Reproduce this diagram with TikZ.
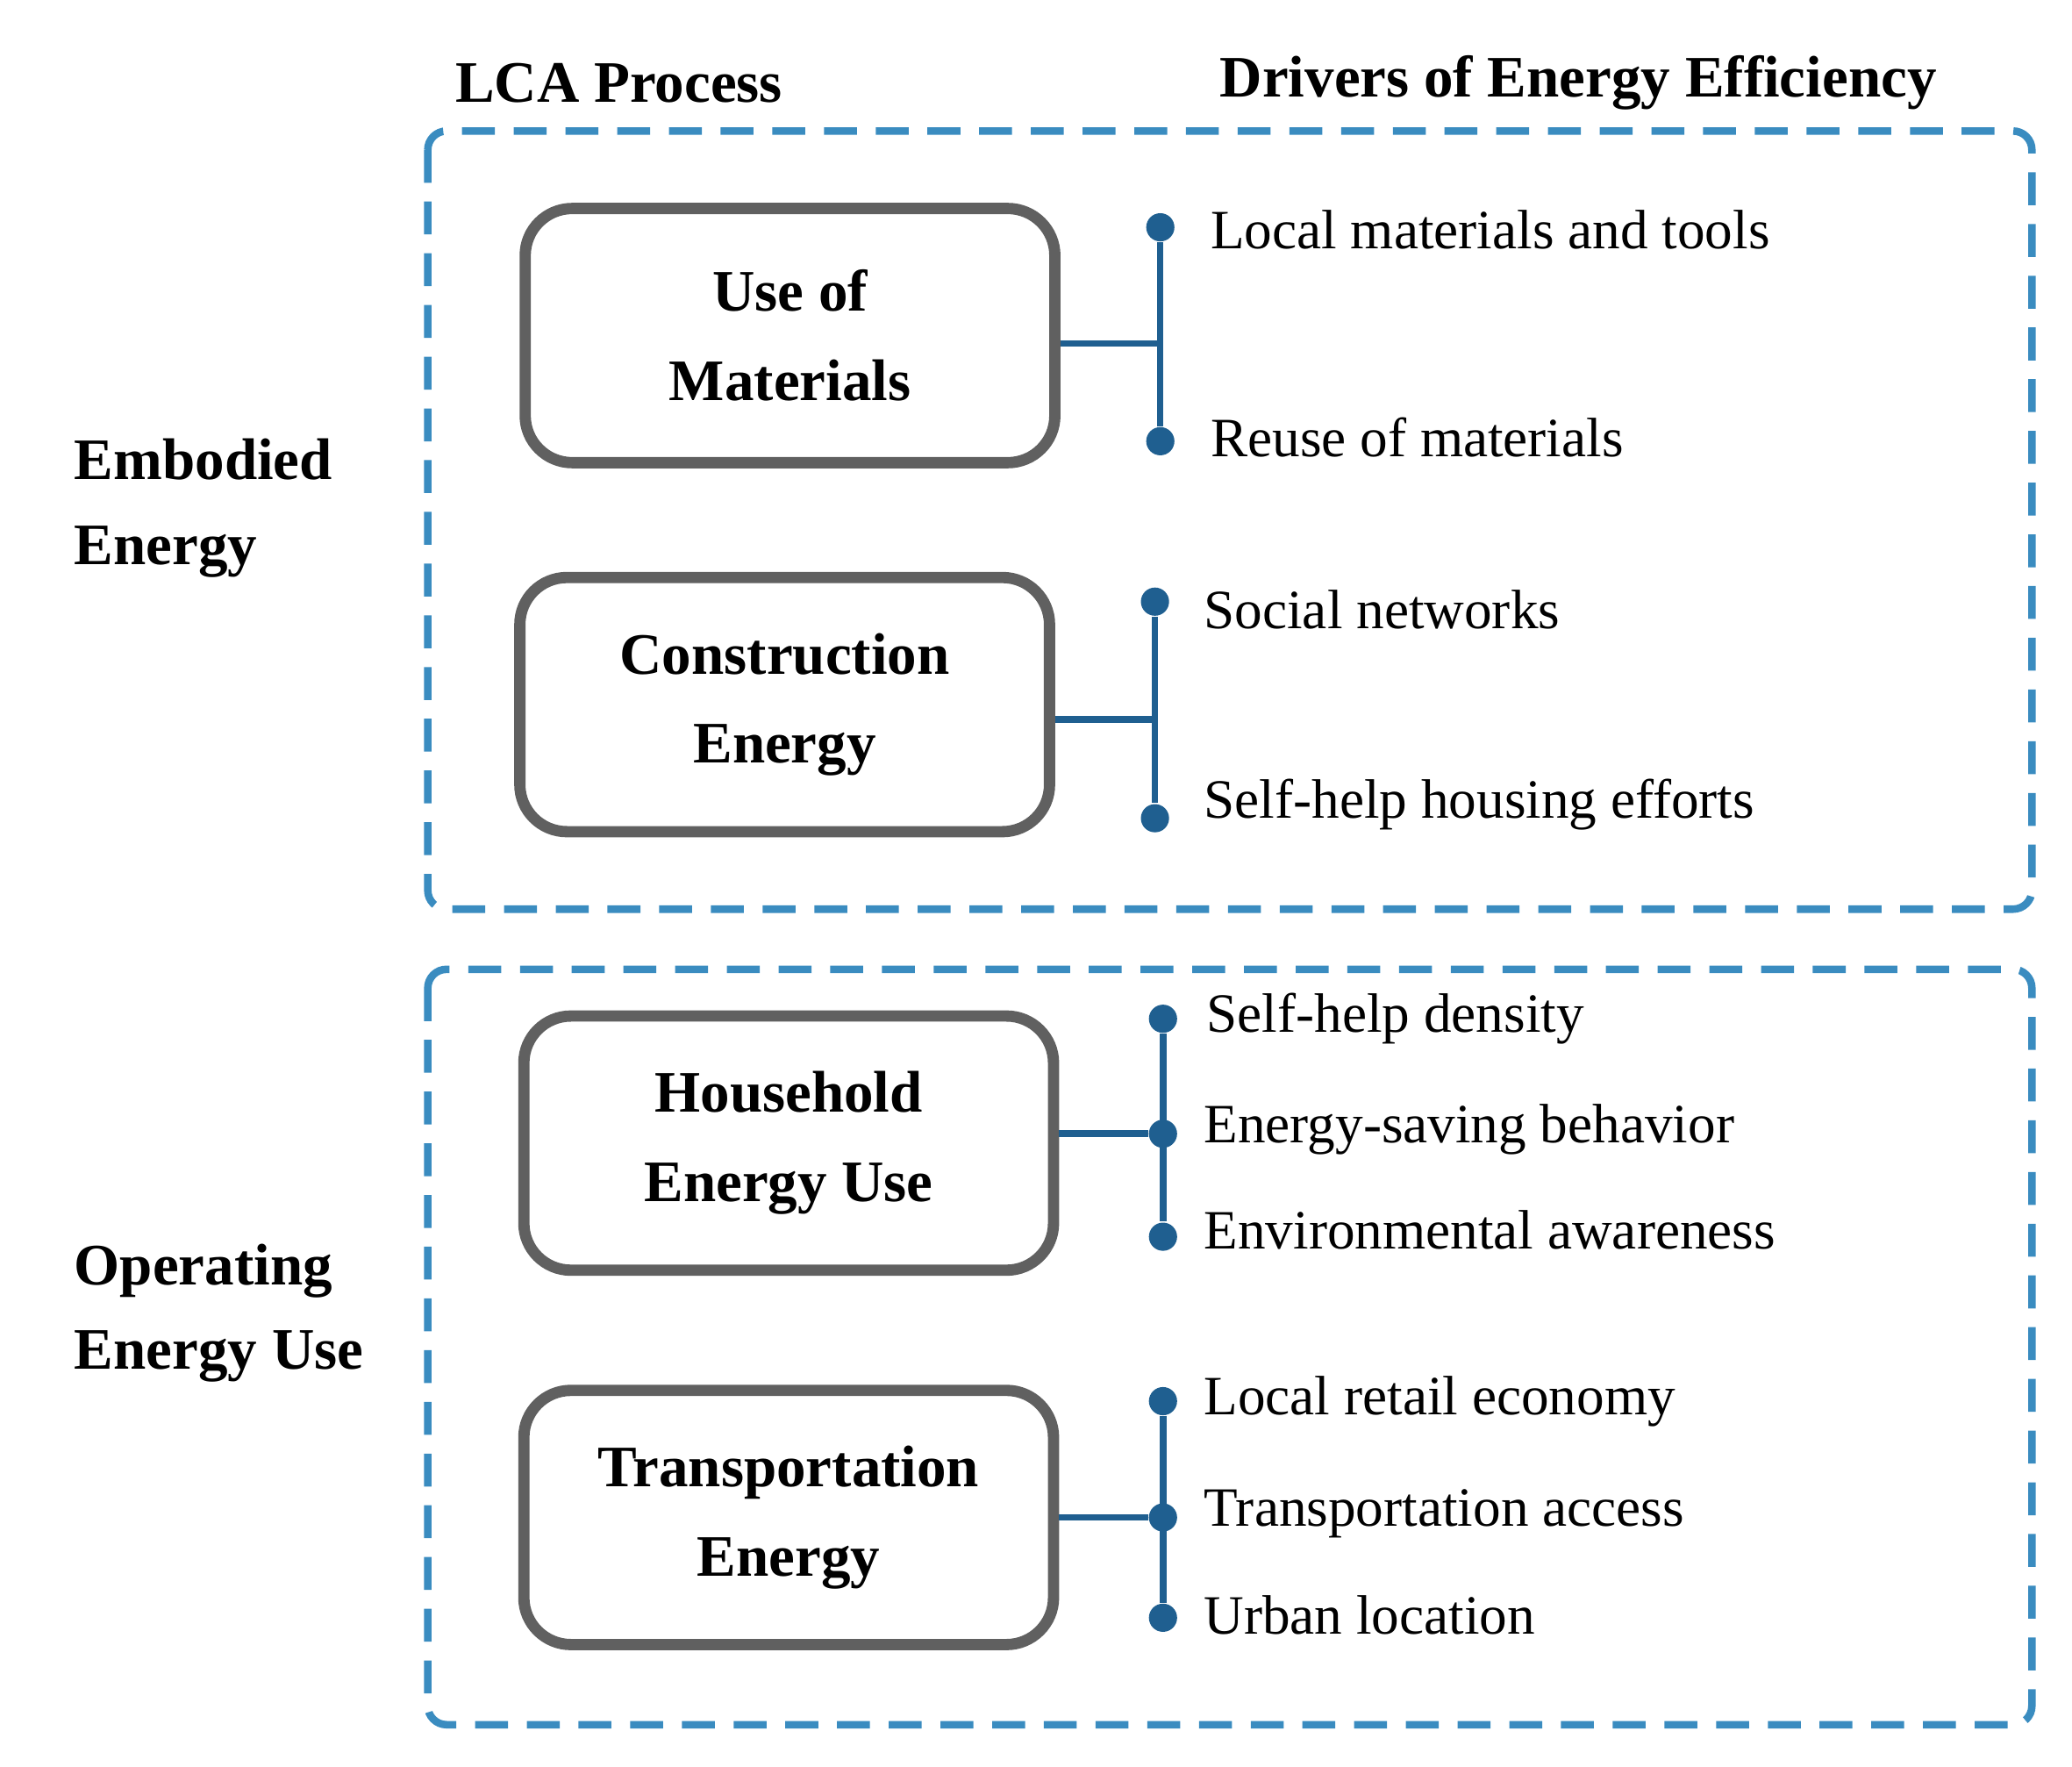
\documentclass[tikz,border=0pt]{standalone}
\usepackage{fontspec}
\setmainfont{Liberation Serif}
\begin{document}
\begin{tikzpicture}[x=0.01cm,y=-0.01cm,
  dbox/.style={draw=dashblue,line width=1.6pt,dash pattern=on 7pt off 4pt,rounded corners=4pt},
  pbox/.style={draw=gray!75!black,line width=2.4pt,rounded corners=10pt,align=center,
    minimum width=3.96cm,minimum height=1.9cm,inner sep=0pt,
    font=\fontsize{12.5}{19}\selectfont\bfseries},
  conn/.style={draw=connblue,line width=1.4pt},
  dot/.style={circle,fill=connblue,inner sep=0pt,minimum size=6pt},
  lbl/.style={anchor=west,font=\fontsize{11.8}{15}\selectfont,inner sep=0pt},
  hdr/.style={font=\fontsize{12.5}{18}\selectfont\bfseries,align=left,anchor=west,inner sep=0pt}]
\definecolor{dashblue}{HTML}{3A8CC0}
\definecolor{connblue}{HTML}{1F5F90}
\useasboundingbox (0,0) rectangle (1550,1321);
\node[hdr] (h1) at (340,62) {LCA Process};
\node[hdr] (h2) at (912,62) {Drivers of Energy Efficiency};
\node[hdr] (e1) at (55,380) {Embodied\\Energy};
\node[hdr] (e2) at (55,982) {Operating\\Energy Use};
\draw[dbox] (320,98) rectangle (1520,680);
\draw[dbox] (320,725) rectangle (1520,1290);
\node[pbox] (p1) at (591,251) {Use of\\Materials};
\node[pbox] (p2) at (587,527) {Construction\\Energy};
\node[pbox] (p3) at (590,855) {Household\\Energy Use};
\node[pbox] (p4) at (590,1135) {Transportation\\Energy};
\coordinate (j1) at (868,257);
\node[dot] (d11) at (868,170) {}; \node[dot] (d12) at (868,330) {};
\draw[conn] (p1.east |- j1) -- (j1); \draw[conn] (d11) -- (d12);
\node[lbl] (t11) at (905,172) {Local materials and tools};
\node[lbl] (t12) at (905,327) {Reuse of materials};
\coordinate (j2) at (864,538);
\node[dot] (d21) at (864,450) {}; \node[dot] (d22) at (864,612) {};
\draw[conn] (p2.east |- j2) -- (j2); \draw[conn] (d21) -- (d22);
\node[lbl] (t21) at (900,456) {Social networks};
\node[lbl] (t22) at (900,602) {Self-help housing efforts};
\node[dot] (d31) at (870,762) {}; \node[dot] (d32) at (870,848) {}; \node[dot] (d33) at (870,925) {};
\draw[conn] (p3.east |- d32) -- (d32); \draw[conn] (d31) -- (d33);
\node[lbl] (t31) at (902,762) {Self-help density};
\node[lbl] (t32) at (900,845) {Energy-saving behavior};
\node[lbl] (t33) at (900,920) {Environmental awareness};
\node[dot] (d41) at (870,1048) {}; \node[dot] (d42) at (870,1135) {}; \node[dot] (d43) at (870,1210) {};
\draw[conn] (p4.east |- d42) -- (d42); \draw[conn] (d41) -- (d43);
\node[lbl] (t41) at (900,1048) {Local retail economy};
\node[lbl] (t42) at (900,1132) {Transportation access};
\node[lbl] (t43) at (900,1208) {Urban location};
\end{tikzpicture}
\end{document}
